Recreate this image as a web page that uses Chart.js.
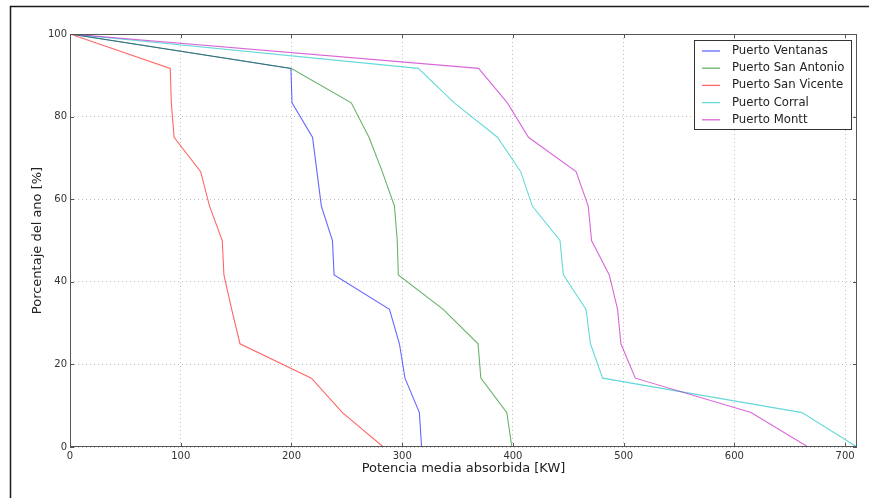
<!DOCTYPE html>
<html>
<head>
<meta charset="utf-8">
<script src="https://cdn.jsdelivr.net/npm/chart.js@4"></script>
<style>
  html, body { margin: 0; padding: 0; background: #fff; }
  #wrap { width: 869px; height: 498px; }
</style>
</head>
<body>
<div id="wrap"><canvas id="chart" width="869" height="498"></canvas></div>
<script>
// percentage of the year (y) for each sorted month, plus the starting point
const yLevels = [100, 91.67, 83.33, 75, 66.67, 58.33, 50, 41.67, 33.33, 25, 16.67, 8.33, 0];

// mean absorbed power [KW] at each level
const ventanas   = [0, 199.5, 200.5, 219, 223, 227, 237, 238.5, 288.5, 297.5, 302.5, 315.5, 317.5];
const sanAntonio = [0, 200, 254, 270, 282, 293, 295.5, 296.5, 337, 368.5, 371, 394.5, 399];
const sanVicente = [0, 90.5, 91.5, 94, 118, 126, 137.5, 139, 146, 153.5, 218, 246, 283];
const corral     = [0, 314.5, 347, 386, 407, 417.5, 442.5, 445.5, 466, 470, 481, 661, 710.7];
const montt      = [0, 369, 395, 414, 457, 468, 471, 487, 494.5, 497.5, 510.5, 615, 666.5];

const seriesNames = ['Puerto Ventanas', 'Puerto San Antonio', 'Puerto San Vicente', 'Puerto Corral', 'Puerto Montt'];
const seriesValues = [ventanas, sanAntonio, sanVicente, corral, montt];
const seriesColors = [
  'rgba(0,0,255,0.6)',
  'rgba(0,128,0,0.6)',
  'rgba(255,0,0,0.6)',
  'rgba(0,191,191,0.6)',
  'rgba(191,0,191,0.6)'
];

const xTicks = [0, 100, 200, 300, 400, 500, 600, 700];
const yTicks = [0, 20, 40, 60, 80, 100];

const xMax = Math.max(...seriesValues.flat());

const FONT = 'DejaVu Sans';

const datasets = seriesNames.map((name, i) => ({
  label: name,
  data: seriesValues[i].map((v, k) => ({ x: v, y: yLevels[k] })),
  borderColor: seriesColors[i],
  backgroundColor: seriesColors[i],
  borderWidth: 1.1,
  pointRadius: 0,
  tension: 0,
  fill: false,
  order: seriesNames.length - i  // later series on top, like matplotlib
}));

// frame, inward tick marks, outer border and legend box
const decorations = {
  id: 'decorations',
  beforeDraw(chart) {
    const ctx = chart.ctx;
    ctx.save();
    ctx.strokeStyle = '#1a1a1a';
    ctx.lineWidth = 1.5;
    ctx.beginPath();
    ctx.moveTo(10.5, 498);
    ctx.lineTo(10.5, 6.5);
    ctx.lineTo(869, 6.5);
    ctx.stroke();
    ctx.restore();
  },
  afterDraw(chart) {
    const ctx = chart.ctx;
    const a = chart.chartArea;
    const xs = chart.scales.x, ys = chart.scales.y;
    ctx.save();
    ctx.strokeStyle = '#555';
    ctx.lineWidth = 1;
    ctx.strokeRect(a.left + 0.5, a.top + 0.5, a.right - a.left - 1, a.bottom - a.top - 1);

    ctx.beginPath();
    xTicks.forEach(v => {
      const px = Math.round(xs.getPixelForValue(v)) + 0.5;
      ctx.moveTo(px, a.bottom); ctx.lineTo(px, a.bottom - 4);
      ctx.moveTo(px, a.top); ctx.lineTo(px, a.top + 4);
    });
    yTicks.forEach(v => {
      const py = Math.round(ys.getPixelForValue(v)) + 0.5;
      ctx.moveTo(a.left, py); ctx.lineTo(a.left + 4, py);
      ctx.moveTo(a.right, py); ctx.lineTo(a.right - 4, py);
    });
    ctx.stroke();

    // legend
    const lx = 694.5, ly = 40.5, lw = 157, lh = 89;
    ctx.fillStyle = '#fff';
    ctx.fillRect(lx, ly, lw, lh);
    ctx.strokeStyle = '#333';
    ctx.strokeRect(lx, ly, lw, lh);
    ctx.font = '11.7px "' + FONT + '"';
    ctx.textBaseline = 'middle';
    chart.data.datasets.forEach((ds, i) => {
      const cy = 51 + i * 17.2;
      ctx.strokeStyle = ds.borderColor;
      ctx.lineWidth = 1.3;
      ctx.beginPath();
      ctx.moveTo(702, cy); ctx.lineTo(720, cy);
      ctx.stroke();
      ctx.fillStyle = '#222';
      ctx.fillText(ds.label, 732, cy);
    });
    ctx.restore();
  }
};

new Chart(document.getElementById('chart'), {
  type: 'line',
  data: { datasets },
  options: {
    responsive: false,
    animation: false,
    layout: { padding: { left: 0, top: 34, right: 12, bottom: 0 } },
    plugins: {
      legend: { display: false },
      tooltip: { enabled: false }
    },
    scales: {
      x: {
        type: 'linear',
        min: 0,
        max: xMax,
        afterFit(scale) { scale.height = 51; },
        ticks: {
          stepSize: 100,
          includeBounds: false,
          padding: 3,
          color: '#333',
          font: { family: FONT, size: 10 },
          maxRotation: 0
        },
        grid: {
          color: '#c0c0c0',
          drawTicks: false
        },
        border: { display: false, dash: [1, 3] },
        title: {
          display: true,
          text: 'Potencia media absorbida [KW]',
          color: '#222',
          font: { family: FONT, size: 13 },
          padding: { top: 0, bottom: 22 }
        }
      },
      y: {
        min: 0,
        max: 100,
        afterFit(scale) { scale.width = 70; },
        ticks: {
          stepSize: 20,
          padding: 3,
          color: '#333',
          font: { family: FONT, size: 10 }
        },
        grid: {
          color: '#c0c0c0',
          drawTicks: false
        },
        border: { display: false, dash: [1, 3] },
        title: {
          display: true,
          text: 'Porcentaje del ano [%]',
          color: '#222',
          font: { family: FONT, size: 13 },
          padding: { top: 30, bottom: 0 }
        }
      }
    }
  },
  plugins: [decorations]
});
</script>
</body>
</html>
